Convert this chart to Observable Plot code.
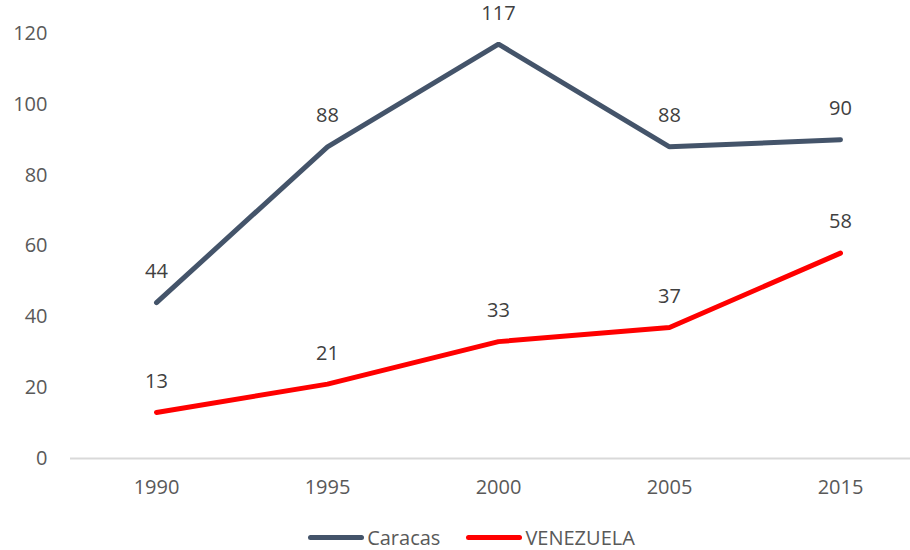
<!DOCTYPE html>
<html>
<head>
<meta charset="utf-8">
<script src="https://cdn.jsdelivr.net/npm/d3@7"></script>
<script src="https://cdn.jsdelivr.net/npm/@observablehq/plot@0.6"></script>
<style>
  body { margin: 0; background: #fff; font-family: "Open Sans", "Noto Sans", sans-serif; }
  #legend { display: flex; justify-content: center; align-items: center; height: 30px; font-size: 20px; color: #595959; margin-left: 33px; }
  .item { display: flex; align-items: center; margin: 0 13px; }
  .sw { width: 56px; height: 5px; border-radius: 3px; margin-right: 3px; }
</style>
</head>
<body>
<div id="chart"></div>
<div id="legend"></div>
<script>
const years = ["1990", "1995", "2000", "2005", "2015"];
const seriesNames = ["Caracas", "VENEZUELA"];
const caracas = [44, 88, 117, 88, 90];
const venezuela = [13, 21, 33, 37, 58];
const colors = ["#44546A", "#FF0000"];
const yTicks = [0, 20, 40, 60, 80, 100, 120];

const data = [];
years.forEach((y, i) => data.push({year: y, value: caracas[i], series: seriesNames[0]}));
years.forEach((y, i) => data.push({year: y, value: venezuela[i], series: seriesNames[1]}));

const chart = Plot.plot({
  width: 910,
  height: 522,
  marginTop: 33,
  marginBottom: 64,
  marginLeft: 70,
  marginRight: 0,
  style: {fontFamily: "'Open Sans', 'Noto Sans', sans-serif", fontSize: "20px", color: "#595959", background: "#fff"},
  x: {type: "point", domain: years, range: [155, 840], padding: 0, label: null},
  y: {domain: [0, 120], range: [458, 33], label: null},
  color: {domain: seriesNames, range: colors},
  marks: [
    Plot.axisY({ticks: yTicks, tickSize: 0, tickPadding: 23, fontSize: 20, color: "#595959", label: null}),
    Plot.axisX({tickSize: 0, tickPadding: 21, fontSize: 20, color: "#595959", label: null}),
    Plot.ruleY([0], {stroke: "#D9D9D9", strokeWidth: 2}),
    Plot.line(data, {x: "year", y: "value", z: "series", stroke: "series", strokeWidth: 5, strokeLinecap: "round", strokeLinejoin: "miter"}),
    Plot.text(data, {x: "year", y: "value", text: d => String(d.value), dy: -31, fontSize: 20, fill: "#404040"})
  ]
});
document.getElementById("chart").appendChild(chart);

const legend = document.getElementById("legend");
seriesNames.forEach((n, i) => {
  const it = document.createElement("div");
  it.className = "item";
  const sw = document.createElement("div");
  sw.className = "sw";
  sw.style.background = colors[i];
  const t = document.createElement("span");
  t.textContent = n;
  it.appendChild(sw); it.appendChild(t);
  legend.appendChild(it);
});
</script>
</body>
</html>
